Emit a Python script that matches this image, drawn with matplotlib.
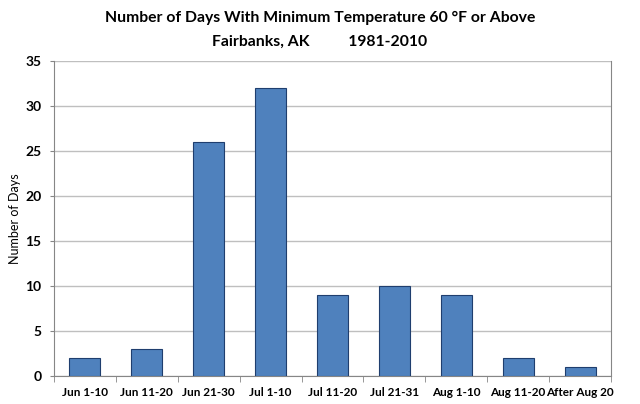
import matplotlib
matplotlib.use('Agg')
import matplotlib.pyplot as plt
import numpy as np

# Datos
periodos = ['Jun 1-10', 'Jun 11-20', 'Jun 21-30', 'Jul 1-10', 'Jul 11-20',
            'Jul 21-31', 'Aug 1-10', 'Aug 11-20', 'After Aug 20']
dias = [2, 3, 26, 32, 9, 10, 9, 2, 1]
y_ticks = [0, 5, 10, 15, 20, 25, 30, 35]

plt.rcParams['font.family'] = ['Lato', 'DejaVu Sans']

fig = plt.figure(figsize=(6.4, 4.04), dpi=100)
ax = fig.add_axes([54 / 640, 28 / 404, 557 / 640, 315 / 404])

x = np.arange(len(periodos))
ax.bar(x, dias, width=0.5, color='#4F81BD', edgecolor='#1F3E6E', linewidth=0.8, zorder=3)

ax.set_xlim(-0.5, len(periodos) - 0.5)
ax.set_ylim(0, 35)
ax.set_yticks(y_ticks)
ax.set_xticks(x)
ax.set_xticklabels(periodos, fontsize=8.5, fontweight='bold')
ax.tick_params(axis='x', length=0, pad=8)
ax.set_xticks(np.arange(-0.5, len(periodos)), minor=True)
ax.tick_params(axis='x', which='minor', length=4, color='#868686', direction='out')
ax.tick_params(axis='y', length=3, color='#868686', labelsize=10, pad=6)
for lbl in ax.get_yticklabels():
    lbl.set_fontweight('bold')

ax.grid(axis='y', color='#BFBFBF', linewidth=1, zorder=0)
for s in ['left', 'bottom', 'right']:
    ax.spines[s].set_color('#868686')
ax.spines['top'].set_visible(False)

ax.set_ylabel('Number of Days', fontsize=9, labelpad=3)

fig.text(0.5, 0.955, 'Number of Days With Minimum Temperature 60 °F or Above',
         ha='center', va='center', fontsize=11.3, fontweight='bold')
fig.text(0.5, 0.896, 'Fairbanks, AK          1981-2010',
         ha='center', va='center', fontsize=11.3, fontweight='bold')

fig.savefig('out.png', dpi=100)
